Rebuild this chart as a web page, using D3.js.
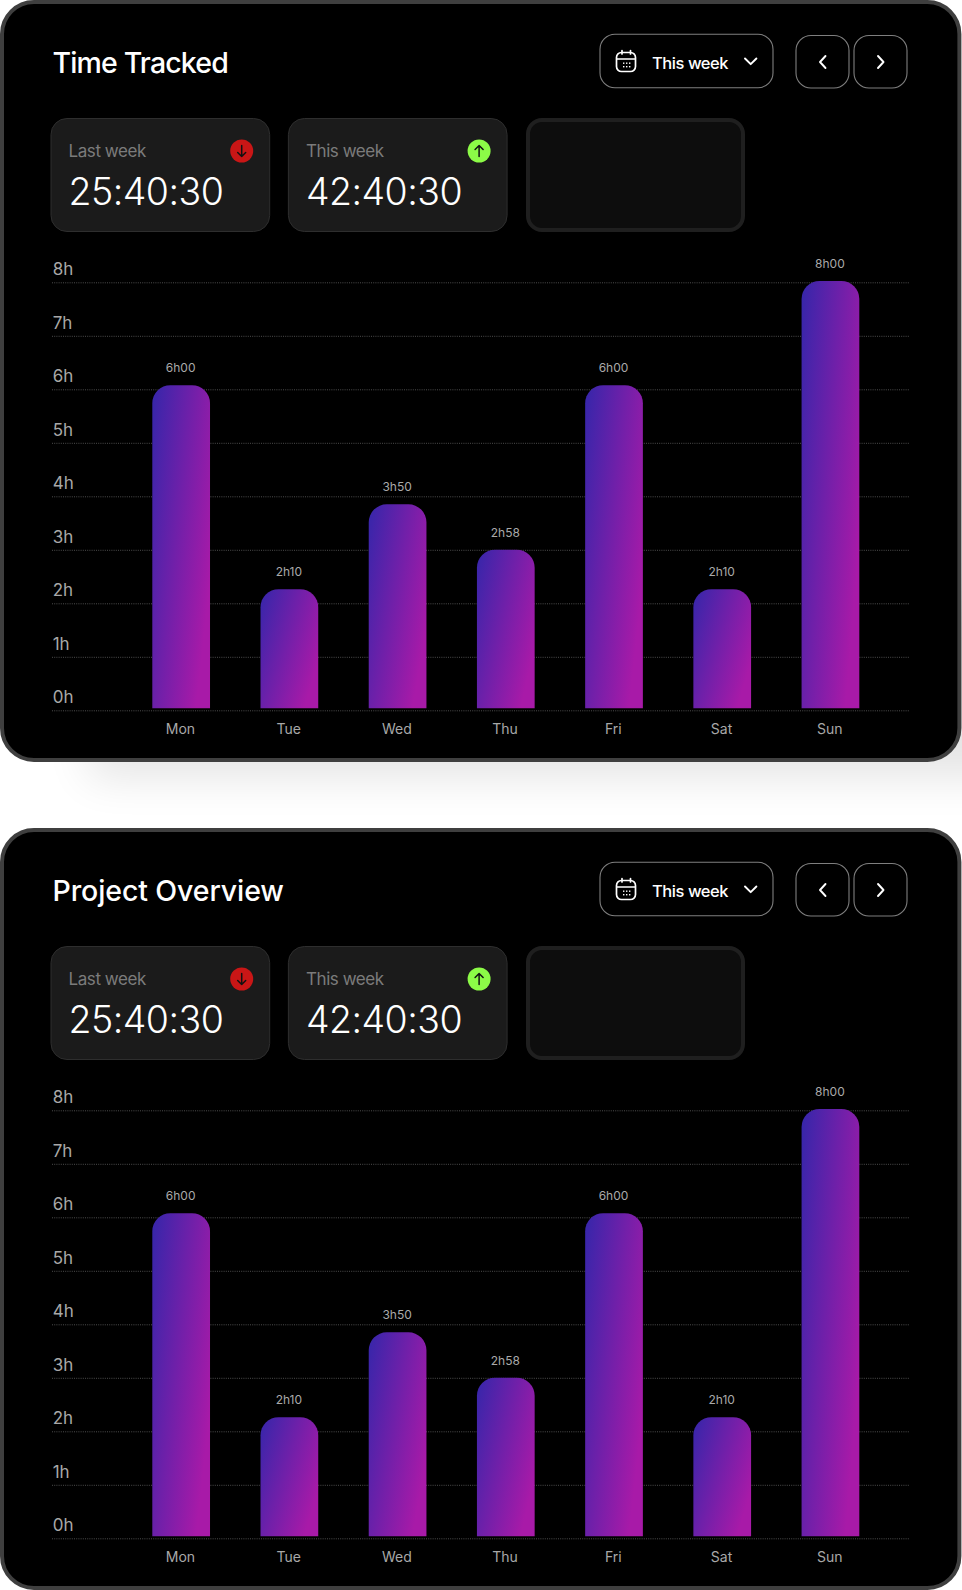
<!DOCTYPE html>
<html><head><meta charset="utf-8">
<script src="https://cdn.jsdelivr.net/npm/d3@7"></script>
<style>
html,body{margin:0;padding:0;background:#fff;}
svg{display:block;}
text{font-family:Inter,"Noto Sans",sans-serif;font-feature-settings:"calt" 0;}
</style></head><body><div id="c"></div>
<script>
const days = ["Mon","Tue","Wed","Thu","Fri","Sat","Sun"];
const hours = [6.05,2.23,3.82,2.97,6.05,2.23,8];
const barLabels = ["6h00","2h10","3h50","2h58","6h00","2h10","8h00"];
const gridTicks = [0,1,2,3,4,5,6,7,8];
const titles = ["Time Tracked","Project Overview"];
const rangeLabel = "This week";
const statLabels = ["Last week","This week"];
const statValues = ["25:40:30","42:40:30"];

const W=962,H=1590,cardH=762,cardStep=828;
const svg=d3.select("#c").append("svg").attr("width",W).attr("height",H);
const defs=svg.append("defs");
const grad=defs.append("linearGradient").attr("id","barGrad")
  .attr("x1",0).attr("y1",0).attr("x2",1.05).attr("y2",0.65);
grad.append("stop").attr("offset",0).attr("stop-color","#3526aa");
grad.append("stop").attr("offset",0.95).attr("stop-color","#a81aa8");
defs.append("filter").attr("id","soft").attr("x","-20%").attr("y","-50%").attr("width","140%").attr("height","200%")
  .append("feGaussianBlur").attr("stdDeviation",22);

svg.append("rect").attr("x",88).attr("y",600).attr("width",1100).attr("height",178)
  .attr("fill","#000").attr("opacity",0.1).attr("filter","url(#soft)");

const gridY=d3.scaleLinear().domain([0,8]).range([710.3,282.3]);
const barY=d3.scaleLinear().domain([0,8]).range([708.3,281]);
const x=d3.scaleBand().domain(days).range([152.3,859.3]).paddingInner(0.4666).paddingOuter(0);

function topRounded(x0,y0,w,h,r){
  return `M${x0},${y0+h}V${y0+r}A${r},${r} 0 0 1 ${x0+r},${y0}H${x0+w-r}A${r},${r} 0 0 1 ${x0+w},${y0+r}V${y0+h}Z`;
}

function drawCard(idx){
  const g=svg.append("g").attr("transform",`translate(0,${idx*cardStep})`);
  g.append("rect").attr("x",2).attr("y",2).attr("width",W-4.6).attr("height",cardH-4)
    .attr("rx",32).attr("fill","#000").attr("stroke","#3f3f3f").attr("stroke-width",4);
  g.append("text").attr("x",52.5).attr("y",72.5).attr("font-size",28.5).attr("font-weight",500)
    .attr("letter-spacing",idx?-0.1:-0.85).attr("fill","#fff").text(titles[idx]);

  // range dropdown
  g.append("rect").attr("x",600).attr("y",34.2).attr("width",173).attr("height",53.6).attr("rx",15)
    .attr("fill","none").attr("stroke","#7f7f7f").attr("stroke-width",1.1);
  const ic=g.append("g").attr("fill","none").attr("stroke","#fff").attr("stroke-width",1.7)
    .attr("stroke-linecap","round").attr("stroke-linejoin","round");
  ic.append("rect").attr("x",616.5).attr("y",52.5).attr("width",19).attr("height",19).attr("rx",5);
  ic.append("path").attr("d","M617 59H635M622 50.5V54M630.5 50.5V54");
  g.selectAll(".dot").data([[623,62.5],[626,62.5],[629,62.5],[623,66],[626,66],[629,66]]).join("rect")
    .attr("x",d=>d[0]).attr("y",d=>d[1]).attr("width",1.4).attr("height",1.4).attr("fill","#fff");
  g.append("text").attr("x",652).attr("y",68.5).attr("font-size",16.5).attr("font-weight",500)
    .attr("letter-spacing",-0.45).attr("fill","#fff").text(rangeLabel);
  const stroke={fill:"none",stroke:"#fff","stroke-width":1.9,"stroke-linecap":"round","stroke-linejoin":"round"};
  const pth=(d)=>{const p=g.append("path").attr("d",d);Object.entries(stroke).forEach(([k,v])=>p.attr(k,v));};
  pth("M745 58.5L750.7 64.2L756.4 58.5");
  // prev / next
  [796,854].forEach(bx=>g.append("rect").attr("x",bx).attr("y",35.5).attr("width",53).attr("height",52.5).attr("rx",15)
    .attr("fill","none").attr("stroke","#7f7f7f").attr("stroke-width",1.1));
  pth("M825.5 56L820 62L825.5 68");
  pth("M878 56L883.5 62L878 68");

  // stat tiles
  [51,288.4].forEach((sx,i)=>{
    g.append("rect").attr("x",sx).attr("y",118.5).attr("width",218.7).attr("height",113).attr("rx",16)
      .attr("fill","#1b1b1b").attr("stroke","#2e2e2e").attr("stroke-width",1);
    g.append("text").attr("x",sx+17.6).attr("y",157).attr("font-size",17).attr("fill","#7b7b7b")
      .attr("letter-spacing",-0.45).text(statLabels[i]);
    g.append("text").attr("x",sx+17.6).attr("y",204.5).attr("font-size",37.5).attr("fill","#fff")
      .attr("font-weight",300).attr("letter-spacing",-0.55).text(statValues[i]);
    const cx=sx+190.7;
    g.append("circle").attr("cx",cx).attr("cy",151).attr("r",11.5).attr("fill",i?"#8cfb47":"#c91616");
    const a=i?`M${cx} 156.5V145.5M${cx-4} 149.5L${cx} 145.5L${cx+4} 149.5`:`M${cx} 145.5V156.5M${cx-4} 152.5L${cx} 156.5L${cx+4} 152.5`;
    g.append("path").attr("d",a).attr("fill","none").attr("stroke","#111").attr("stroke-width",1.5)
      .attr("stroke-linecap","round").attr("stroke-linejoin","round");
  });
  g.append("rect").attr("x",528).attr("y",120).attr("width",215).attr("height",110).attr("rx",14)
    .attr("fill","#0d0d0d").attr("stroke","#1f1f1f").attr("stroke-width",4);

  // y axis + grid
  const ya=g.append("g").attr("class","y").call(
    d3.axisLeft(gridY).tickValues(gridTicks).tickFormat(d=>d+"h").tickSize(0));
  ya.select(".domain").remove();
  ya.selectAll("line").attr("x1",52).attr("x2",909).attr("stroke","#6e6e6e").attr("stroke-width",0.7)
    .attr("stroke-dasharray","1 1.2");
  ya.selectAll("text").attr("x",52.7).attr("y",-7.5).attr("dy",0).attr("text-anchor","start")
    .attr("font-size",17).attr("font-family",'Inter,"Noto Sans",sans-serif').attr("fill","#a8a8a8");

  // bars
  g.selectAll(".bar").data(hours).join("path").attr("class","bar")
    .attr("d",(d,i)=>topRounded(x(days[i]),barY(d),x.bandwidth(),barY(0)-barY(d),18))
    .attr("fill","url(#barGrad)");
  g.selectAll(".val").data(hours).join("text").attr("class","val")
    .attr("x",(d,i)=>x(days[i])+x.bandwidth()/2-0.5).attr("y",d=>barY(d)-13)
    .attr("text-anchor","middle").attr("font-size",12).attr("fill","#aaaaaa")
    .text((d,i)=>barLabels[i]);

  // x axis
  const xa=g.append("g").attr("transform","translate(-0.7,734)").call(d3.axisBottom(x).tickSize(0));
  xa.select(".domain").remove();
  xa.selectAll("text").attr("y",0).attr("dy",0).attr("font-size",14)
    .attr("font-family",'Inter,"Noto Sans",sans-serif').attr("fill","#a8a8a8");
}
titles.forEach((t,i)=>drawCard(i));
</script></body></html>
